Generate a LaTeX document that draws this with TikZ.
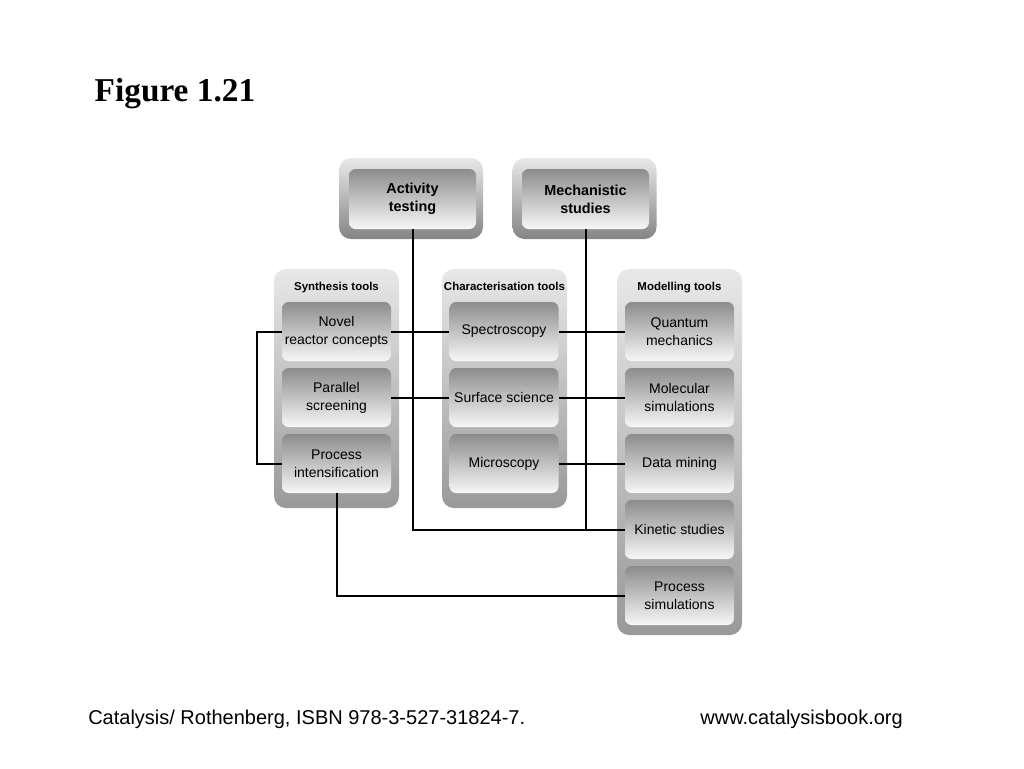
\documentclass[tikz,border=0pt]{standalone}
\usepackage{fontspec}
\setmainfont{Liberation Sans}
\newfontfamily\titlefont{Liberation Serif}
\usepackage{tikz}
\usetikzlibrary{calc}

\begin{document}
\begin{tikzpicture}[x=0.75pt,y=0.75pt,
	toolbox/.style={rounded corners=5pt, top color=black!45, bottom color=black!3, minimum width=81.75pt, minimum height=44.25pt, align=center, font=\fontsize{10.5}{13.5}\selectfont, inner sep=0pt},
	headbox/.style={toolbox, minimum width=95.25pt, minimum height=45pt, font=\fontsize{10.8}{13.5}\selectfont\bfseries},
	groupbox/.style={rounded corners=9pt, top color=black!9, bottom color=black!40, minimum width=93.75pt, inner sep=0pt},
	framebox/.style={rounded corners=9pt, top color=black!9, bottom color=black!48, minimum width=108pt, minimum height=60.75pt, inner sep=0pt},
	grouplabel/.style={anchor=base, font=\fontsize{8.6}{10}\selectfont\bfseries},
	footnote/.style={inner sep=0pt, font=\fontsize{15}{18}\selectfont},
	link/.style={line width=1.5pt}]
	\useasboundingbox (0,0) rectangle (1024,-768);
	\node[anchor=base west, font=\titlefont\fontsize{25}{30}\selectfont\bfseries] (title) at (90,-101) {Figure 1.21};
	% top boxes
	\node[framebox] (actframe) at (411,-198.5) {};
	\node[framebox] (mechframe) at (584.5,-198.5) {};
	\node[headbox] (act) at (412.5,-199) {Activity\\testing};
	\node[headbox] (mech) at (585.5,-199) {Mechanistic\\studies};
	% groups
	\node[groupbox, minimum height=179.25pt] (synth) at (336.5,-388.5) {};
	\node[groupbox, minimum height=179.25pt] (charac) at (504.5,-388.5) {};
	\node[groupbox, minimum height=274.5pt] (model) at (679.5,-452) {};
	\node[grouplabel] (synthlabel) at (336.5,-290) {Synthesis tools};
	\node[grouplabel] (characlabel) at (504.5,-290) {Characterisation tools};
	\node[grouplabel] (modellabel) at (679.5,-290) {Modelling tools};
	\node[toolbox] (novel) at (336.5,-331.5) {Novel\\reactor concepts};
	\node[toolbox] (para) at (336.5,-397.5) {Parallel\\screening};
	\node[toolbox] (procint) at (336.5,-463.5) {Process\\intensification};
	\node[toolbox] (spec) at (504,-331.5) {Spectroscopy};
	\node[toolbox] (surf) at (504,-397.5) {Surface science};
	\node[toolbox] (micro) at (504,-463.5) {Microscopy};
	\node[toolbox] (quant) at (679.5,-331.5) {Quantum\\mechanics};
	\node[toolbox] (molec) at (679.5,-397.5) {Molecular\\simulations};
	\node[toolbox] (datam) at (679.5,-463.5) {Data mining};
	\node[toolbox] (kin) at (679.5,-529.5) {Kinetic studies};
	\node[toolbox] (procsim) at (679.5,-595.5) {Process\\simulations};
	% connectors
	\draw[link] (act.south) |- (kin.west);
	\draw[link] (mech.south) -- (mech.south |- kin.west);
	\draw[link] (novel.east) -- (spec.west);
	\draw[link] (spec.east) -- (quant.west);
	\draw[link] (para.east) -- (surf.west);
	\draw[link] (surf.east) -- (molec.west);
	\draw[link] (micro.east) -- (datam.west);
	\draw[link] (novel.west) -- ++(-25,0) |- (procint.west);
	\draw[link] (procint.south) |- (procsim.west);
	% footer
	\node[footnote, anchor=base west] (source) at (88,-724) {Catalysis/ Rothenberg, ISBN 978-3-527-31824-7.};
	\node[footnote, anchor=base east] (site) at (903,-724) {www.catalysisbook.org};
\end{tikzpicture}
\end{document}
